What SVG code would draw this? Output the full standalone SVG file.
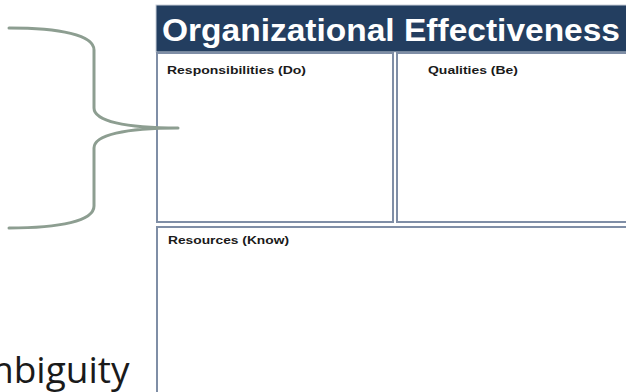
<svg xmlns="http://www.w3.org/2000/svg" width="626" height="392" viewBox="0 0 626 392">
<style>
.box{fill:#ffffff;stroke:#7f8ea6;stroke-width:2}
.lbl{font-family:"Liberation Sans",Arial,sans-serif;font-weight:bold;font-size:11.5px;fill:#1a1a1a}
.brace{fill:none;stroke:#8d9e91;stroke-width:3;stroke-linecap:round}
</style>
<rect width="626" height="392" fill="#ffffff"/>
<g id="header">
<rect x="156" y="5" width="480" height="47" fill="#233e60" stroke="#c9d0da" stroke-width="1"/>
<text x="162" y="41" font-family="Liberation Sans,Arial,sans-serif" font-weight="bold" font-size="32" fill="#ffffff" textLength="458" lengthAdjust="spacingAndGlyphs">Organizational Effectiveness</text>
</g>
<g id="responsibilities">
<rect class="box" x="157" y="53" width="236" height="169"/>
<text class="lbl" x="167" y="74" textLength="139" lengthAdjust="spacingAndGlyphs">Responsibilities (Do)</text>
</g>
<g id="qualities">
<rect class="box" x="397" y="53" width="240" height="169"/>
<text class="lbl" x="428" y="74" textLength="90" lengthAdjust="spacingAndGlyphs">Qualities (Be)</text>
</g>
<g id="resources">
<rect class="box" x="157" y="227" width="480" height="175"/>
<text class="lbl" x="168" y="244" textLength="121" lengthAdjust="spacingAndGlyphs">Resources (Know)</text>
</g>
<g id="connectors">
<path class="brace" d="M9,28 C60,28 94,35 94,50 L94,108 C94,121 125,128 178,128 M178,128 C125,128 94,135 94,148 L94,206 C94,221 60,228 9,228"/>
</g>
<g id="ambiguity">
<text x="-44" y="383" font-family="Open Sans,Noto Sans,sans-serif" font-size="37" fill="#1a1a1a">Ambiguity</text>
</g>
</svg>
